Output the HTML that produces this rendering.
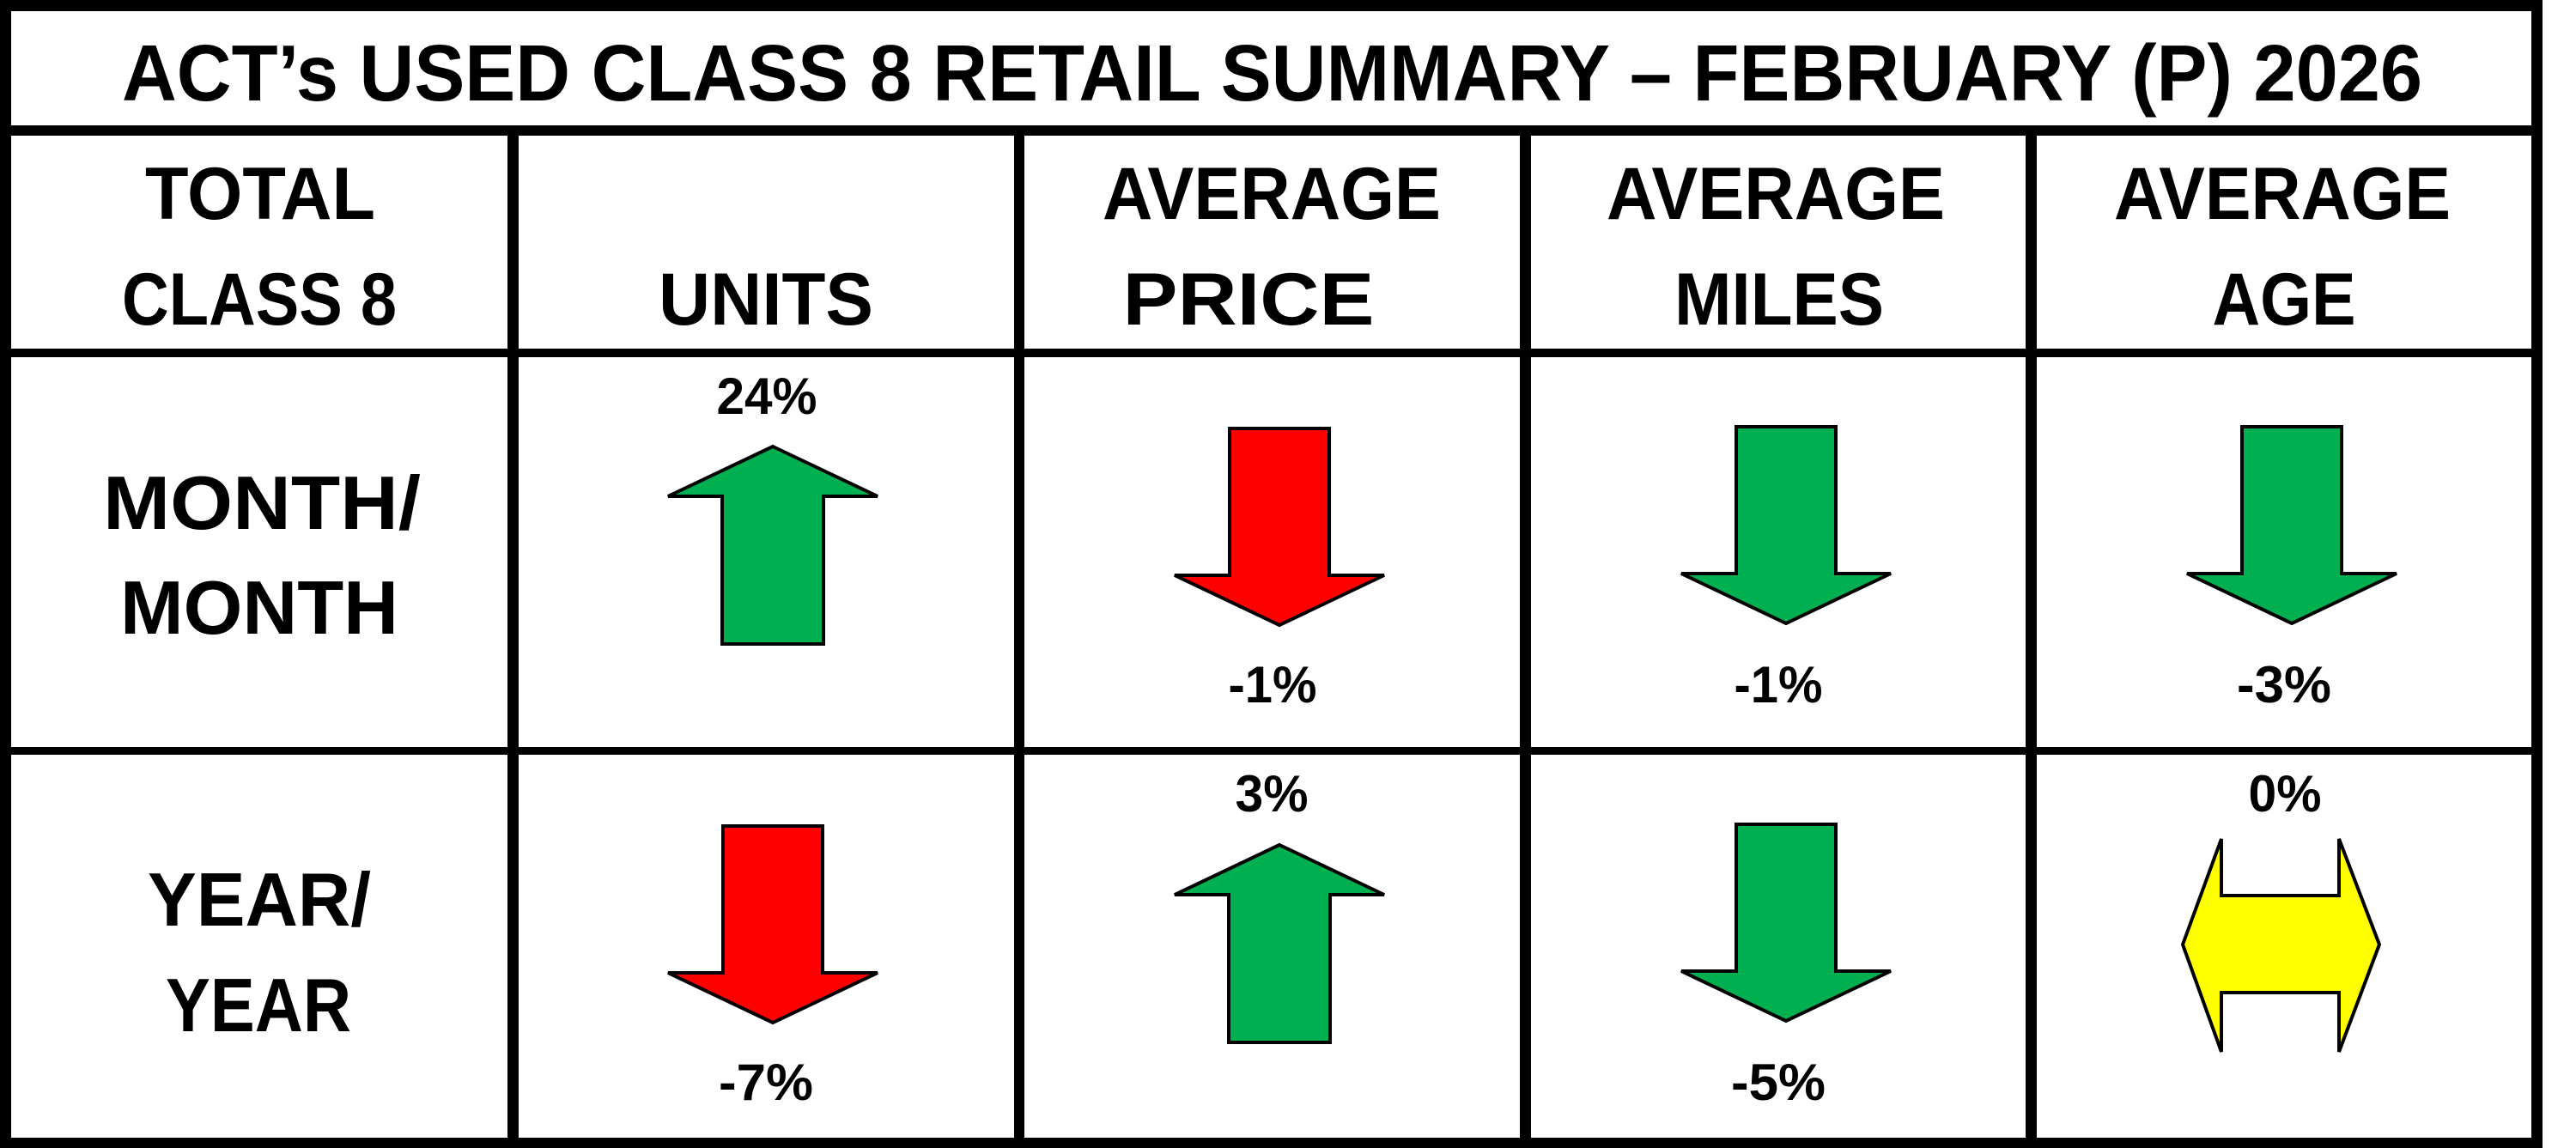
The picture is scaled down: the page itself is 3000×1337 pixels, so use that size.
<!DOCTYPE html>
<html><head><meta charset="utf-8"><style>
html,body{margin:0;padding:0;background:#fff;}
svg{display:block;}
text{font-family:"Liberation Sans",sans-serif;font-weight:bold;fill:#000;}
</style></head><body>
<svg width="3000" height="1337" viewBox="0 0 3000 1337" xmlns="http://www.w3.org/2000/svg">
<rect x="0" y="0" width="3000" height="1337" fill="#fff"/>
<rect x="0" y="0" width="2961" height="13" fill="#000"/>
<rect x="0" y="0" width="13" height="1337" fill="#000"/>
<rect x="2948" y="0" width="13" height="1337" fill="#000"/>
<rect x="0" y="1325" width="2961" height="12" fill="#000"/>
<rect x="0" y="146" width="2961" height="12" fill="#000"/>
<rect x="0" y="406" width="2961" height="10" fill="#000"/>
<rect x="0" y="870" width="2961" height="9" fill="#000"/>
<rect x="591" y="158" width="13" height="1170" fill="#000"/>
<rect x="1181" y="158" width="12" height="1170" fill="#000"/>
<rect x="1770" y="158" width="13" height="1170" fill="#000"/>
<rect x="2359" y="158" width="13" height="1170" fill="#000"/>

<text x="142" y="117" font-size="93" textLength="2679" lengthAdjust="spacingAndGlyphs">ACT’s USED CLASS 8 RETAIL SUMMARY – FEBRUARY (P) 2026</text>

<g font-size="86" text-anchor="middle">
<text x="303" y="255" textLength="268" lengthAdjust="spacingAndGlyphs">TOTAL</text>
<text x="302" y="378" textLength="320" lengthAdjust="spacingAndGlyphs">CLASS 8</text>
<text x="892" y="378" textLength="250" lengthAdjust="spacingAndGlyphs">UNITS</text>
<text x="1481" y="255" textLength="394" lengthAdjust="spacingAndGlyphs">AVERAGE</text>
<text x="1454" y="378" textLength="293" lengthAdjust="spacingAndGlyphs">PRICE</text>
<text x="2068" y="255" textLength="394" lengthAdjust="spacingAndGlyphs">AVERAGE</text>
<text x="2072" y="378" textLength="244" lengthAdjust="spacingAndGlyphs">MILES</text>
<text x="2658" y="255" textLength="392" lengthAdjust="spacingAndGlyphs">AVERAGE</text>
<text x="2660" y="378" textLength="167" lengthAdjust="spacingAndGlyphs">AGE</text>
</g>

<g font-size="88" text-anchor="middle">
<text x="305" y="616" textLength="370" lengthAdjust="spacingAndGlyphs">MONTH/</text>
<text x="302" y="738" textLength="324" lengthAdjust="spacingAndGlyphs">MONTH</text>
<text x="302" y="1078" textLength="260" lengthAdjust="spacingAndGlyphs">YEAR/</text>
<text x="301" y="1201" textLength="216" lengthAdjust="spacingAndGlyphs">YEAR</text>
</g>

<g font-size="60" text-anchor="middle">
<text x="893" y="482" textLength="117" lengthAdjust="spacingAndGlyphs">24%</text>
<text x="1482" y="818" textLength="103" lengthAdjust="spacingAndGlyphs">-1%</text>
<text x="2071" y="818" textLength="103" lengthAdjust="spacingAndGlyphs">-1%</text>
<text x="2660" y="818" textLength="110" lengthAdjust="spacingAndGlyphs">-3%</text>
<text x="892" y="1281" textLength="110" lengthAdjust="spacingAndGlyphs">-7%</text>
<text x="1481" y="945" textLength="85" lengthAdjust="spacingAndGlyphs">3%</text>
<text x="2071" y="1281" textLength="110" lengthAdjust="spacingAndGlyphs">-5%</text>
<text x="2661" y="945" textLength="85" lengthAdjust="spacingAndGlyphs">0%</text>
</g>

<g stroke="#000" stroke-width="4" stroke-linejoin="miter">
<polygon fill="#00B050" points="900,520 1022,578 959,578 959,750 841,750 841,578 778,578"/>
<polygon fill="#FF0000" points="1432,499 1548,499 1548,670 1612,670 1490,728 1368,670 1432,670"/>
<polygon fill="#00B050" points="2022,497 2138,497 2138,668 2202,668 2080,726 1958,668 2022,668"/>
<polygon fill="#00B050" points="2611,497 2727,497 2727,668 2791,668 2669,726 2547,668 2611,668"/>
<polygon fill="#FF0000" points="842,962 958,962 958,1133 1022,1133 900,1191 778,1133 842,1133"/>
<polygon fill="#00B050" points="1490,984 1612,1042 1549,1042 1549,1214 1431,1214 1431,1042 1368,1042"/>
<polygon fill="#00B050" points="2022,960 2138,960 2138,1131 2202,1131 2080,1189 1958,1131 2022,1131"/>
<polygon fill="#FFFF00" points="2542,1100 2587,977 2587,1043 2724,1043 2724,977 2771,1100 2724,1225 2724,1156 2587,1156 2587,1225"/>
</g>
</svg>
</body></html>
